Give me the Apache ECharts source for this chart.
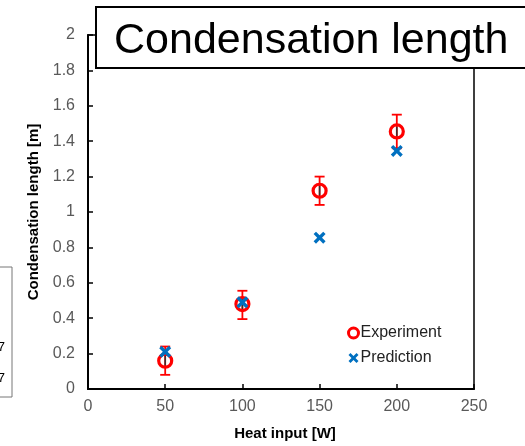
<!DOCTYPE html>
<html><head><meta charset="utf-8">
<script src="https://cdn.jsdelivr.net/npm/echarts@6/dist/echarts.min.js"></script>
<style>html,body{margin:0;padding:0;background:#fff}#c{width:525px;height:446px}</style>
</head><body><div id="c"></div>
<script>
const heatInput = [50, 100, 150, 200];
const experiment = [0.16, 0.48, 1.12, 1.455];
const expLow = [0.08, 0.395, 1.04, 1.36];
const expHigh = [0.24, 0.555, 1.20, 1.55];
const prediction = [0.21, 0.49, 0.855, 1.345];
const xTicks = [0, 50, 100, 150, 200, 250];
const yTicks = [0, 0.2, 0.4, 0.6, 0.8, 1, 1.2, 1.4, 1.6, 1.8, 2];

const font = 'Liberation Sans, Arial, sans-serif';
const crossPath = 'path://M0,2 L2,0 L5,3 L8,0 L10,2 L7,5 L10,8 L8,10 L5,7 L2,10 L0,8 L3,5 Z';

const chart = echarts.init(document.getElementById('c'), null, {renderer: 'canvas'});
chart.setOption({
  animation: false,
  backgroundColor: '#fff',
  grid: {left: 88, right: 51, top: 35, bottom: 53, show: true, borderColor: '#000', borderWidth: 1.5, backgroundColor: 'transparent'},
  xAxis: {
    type: 'value', min: xTicks[0], max: xTicks[xTicks.length - 1], interval: 50,
    name: 'Heat input [W]', nameLocation: 'middle', nameGap: 37,
    nameTextStyle: {fontFamily: font, fontSize: 15, fontWeight: 'bold', color: '#000', padding: [0, 0, 0, 8]},
    axisLine: {lineStyle: {color: '#000', width: 2}},
    axisTick: {inside: true, length: 5, lineStyle: {color: '#000', width: 1.5}},
    axisLabel: {fontFamily: font, fontSize: 16, color: '#595959', margin: 10},
    splitLine: {show: false}
  },
  yAxis: {
    type: 'value', min: yTicks[0], max: yTicks[yTicks.length - 1], interval: 0.2,
    name: 'Condensation length [m]', nameLocation: 'middle', nameGap: 47,
    nameTextStyle: {fontFamily: font, fontSize: 15, fontWeight: 'bold', color: '#000'},
    axisLine: {show: true, lineStyle: {color: '#000', width: 2}},
    axisTick: {show: true, inside: true, length: 5, lineStyle: {color: '#000', width: 1.5}},
    axisLabel: {fontFamily: font, fontSize: 16, color: '#595959', margin: 13,
      formatter: v => String(Math.round(v * 10) / 10)},
    splitLine: {show: false}
  },
  legend: {
    orient: 'vertical', left: 347, top: 325, itemGap: 9, itemWidth: 10, itemHeight: 10, padding: 0,
    textStyle: {fontFamily: font, fontSize: 16, color: '#222', padding: [0, 0, 0, -3]},
    data: [
      {name: 'Experiment', icon: 'circle', itemStyle: {color: '#fff', borderColor: '#ff0000', borderWidth: 3}},
      {name: 'Prediction', icon: crossPath, itemStyle: {color: '#0070c0', borderWidth: 0}}
    ]
  },
  series: [
    {
      type: 'custom', name: 'errorbars', z: 2, silent: true,
      data: heatInput.map((x, i) => [x, expLow[i], expHigh[i], experiment[i]]),
      renderItem: function (params, api) {
        const lo = api.coord([api.value(0), api.value(1)]);
        const hi = api.coord([api.value(0), api.value(2)]);
        const c = api.coord([api.value(0), api.value(3)]);
        const w = 5;
        const st = {stroke: '#ff0000', lineWidth: 1.8};
        return {type: 'group', children: [
          {type: 'line', shape: {x1: lo[0], y1: lo[1], x2: hi[0], y2: hi[1]}, style: st},
          {type: 'line', shape: {x1: lo[0] - w, y1: lo[1], x2: lo[0] + w, y2: lo[1]}, style: st},
          {type: 'line', shape: {x1: hi[0] - w, y1: hi[1], x2: hi[0] + w, y2: hi[1]}, style: st},
          {type: 'line', shape: {x1: c[0], y1: c[1] - 5, x2: c[0], y2: c[1] + 5}, style: {stroke: '#333', lineWidth: 1.5}}
        ]};
      }
    },
    {
      type: 'scatter', name: 'Experiment', z: 3,
      data: heatInput.map((x, i) => [x, experiment[i]]),
      symbol: 'circle', symbolSize: 13,
      itemStyle: {color: 'rgba(255,255,255,0)', borderColor: '#ff0000', borderWidth: 3.2, opacity: 1}
    },
    {
      type: 'scatter', name: 'Prediction', z: 4,
      data: heatInput.map((x, i) => [x, prediction[i]]),
      symbol: crossPath, symbolSize: 12,
      itemStyle: {color: '#0070c0', opacity: 1}
    }
  ],
  graphic: [
    {type: 'rect', z: 100, shape: {x: 96, y: 7, width: 440, height: 61}, style: {fill: '#fff', stroke: '#000', lineWidth: 2}},
    {type: 'text', z: 101, x: 114, y: 41, style: {text: 'Condensation length', font: '43px ' + font, fill: '#000', textVerticalAlign: 'middle'}},
    {type: 'rect', z: 100, shape: {x: -5, y: 267, width: 17, height: 130}, style: {fill: 'transparent', stroke: '#777', lineWidth: 1}},
    {type: 'text', z: 101, x: 5, y: 347, style: {text: '7', font: '13px ' + font, fill: '#000', textAlign: 'right', textVerticalAlign: 'middle'}},
    {type: 'text', z: 101, x: 5, y: 378, style: {text: '7', font: '13px ' + font, fill: '#000', textAlign: 'right', textVerticalAlign: 'middle'}}
  ]
});
</script></body></html>
